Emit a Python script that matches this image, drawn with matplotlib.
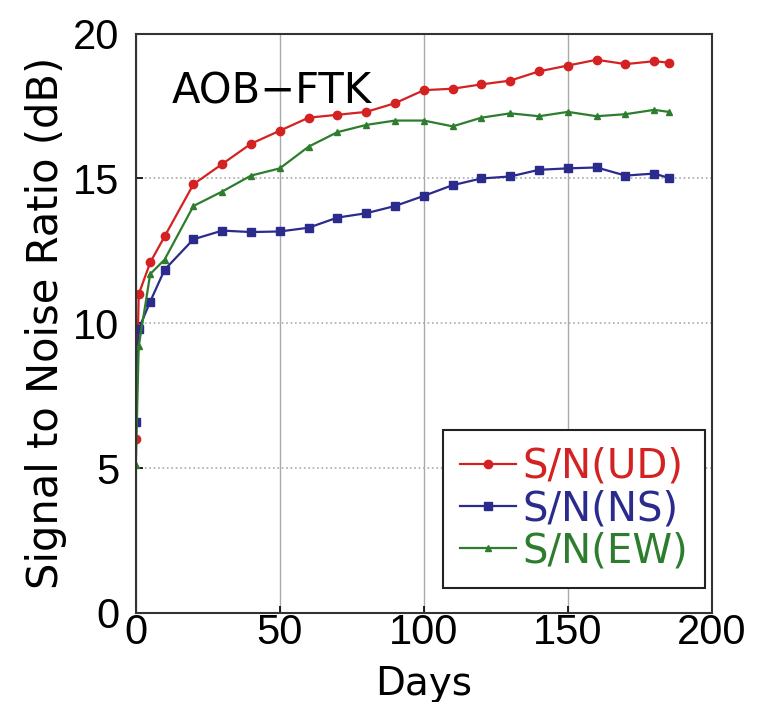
import matplotlib
matplotlib.use("Agg")
import matplotlib.pyplot as plt

plt.rcParams['font.family'] = ['DejaVu Sans']

days = [0, 1, 5, 10, 20, 30, 40, 50, 60, 70, 80, 90, 100, 110, 120, 130, 140, 150, 160, 170, 180, 185]
ud = [6.0, 11.0, 12.1, 13.0, 14.8, 15.5, 16.2, 16.65, 17.1, 17.2, 17.3, 17.6, 18.05, 18.1, 18.25, 18.38, 18.7, 18.9, 19.1, 18.95, 19.05, 19.0]
ns = [6.6, 9.8, 10.75, 11.85, 12.9, 13.2, 13.15, 13.17, 13.3, 13.65, 13.8, 14.05, 14.4, 14.77, 15.0, 15.07, 15.3, 15.35, 15.38, 15.1, 15.17, 15.02]
ew = [5.1, 9.2, 11.7, 12.2, 14.05, 14.55, 15.1, 15.35, 16.1, 16.6, 16.85, 17.0, 17.0, 16.8, 17.1, 17.25, 17.15, 17.3, 17.15, 17.22, 17.37, 17.3]
labels = ['S/N(UD)', 'S/N(NS)', 'S/N(EW)']
xticks = [0, 50, 100, 150, 200]
yticks = [0, 5, 10, 15, 20]

c_red = '#d42222'
c_blue = '#2b2b8e'
c_green = '#2e7d2e'

fig = plt.figure(figsize=(7.63, 7.02), dpi=100)
ax = fig.add_axes([0.178, 0.127, 0.755, 0.825])

ax.plot(days, ud, color=c_red, marker='o', markersize=6, linewidth=1.6, label=labels[0])
ax.plot(days, ns, color=c_blue, marker='s', markersize=6, linewidth=1.6, label=labels[1])
ax.plot(days, ew, color=c_green, marker='^', markersize=5, linewidth=1.6, label=labels[2])

ax.set_xlim(0, 200)
ax.set_ylim(0, 20)
ax.set_xticks(xticks)
ax.set_yticks(yticks)
ax.tick_params(direction='in', length=5, width=1.2, labelsize=30,
               labelfontfamily='Liberation Sans')
ax.tick_params(axis='x', pad=0)
ax.tick_params(axis='y', pad=12)
for s in ax.spines.values():
    s.set_linewidth(1.5)
    s.set_color('#333333')

ax.xaxis.grid(True, color='#aaaaaa', linestyle='-', linewidth=1)
ax.yaxis.grid(True, color='#aaaaaa', linestyle=':', linewidth=1.2)
ax.set_axisbelow(True)

ax.set_xlabel('Days', fontsize=28, labelpad=9)
ax.set_ylabel('Signal to Noise Ratio (dB)', fontsize=30, labelpad=4)

ax.text(0.0625, 0.9, 'AOB\u2212FTK', transform=ax.transAxes, fontsize=30, ha='left', va='center')

leg = ax.legend(loc='lower right', bbox_to_anchor=(0.988, 0.043), fontsize=29, frameon=True,
                fancybox=False, edgecolor='#222222', framealpha=1,
                handlelength=1.4, handletextpad=0.15, borderpad=0.42, labelspacing=0.05,
                borderaxespad=0.0)
leg.get_frame().set_linewidth(1.5)
for t, c in zip(leg.get_texts(), [c_red, c_blue, c_green]):
    t.set_color(c)

fig.savefig('out.png', dpi=100)
